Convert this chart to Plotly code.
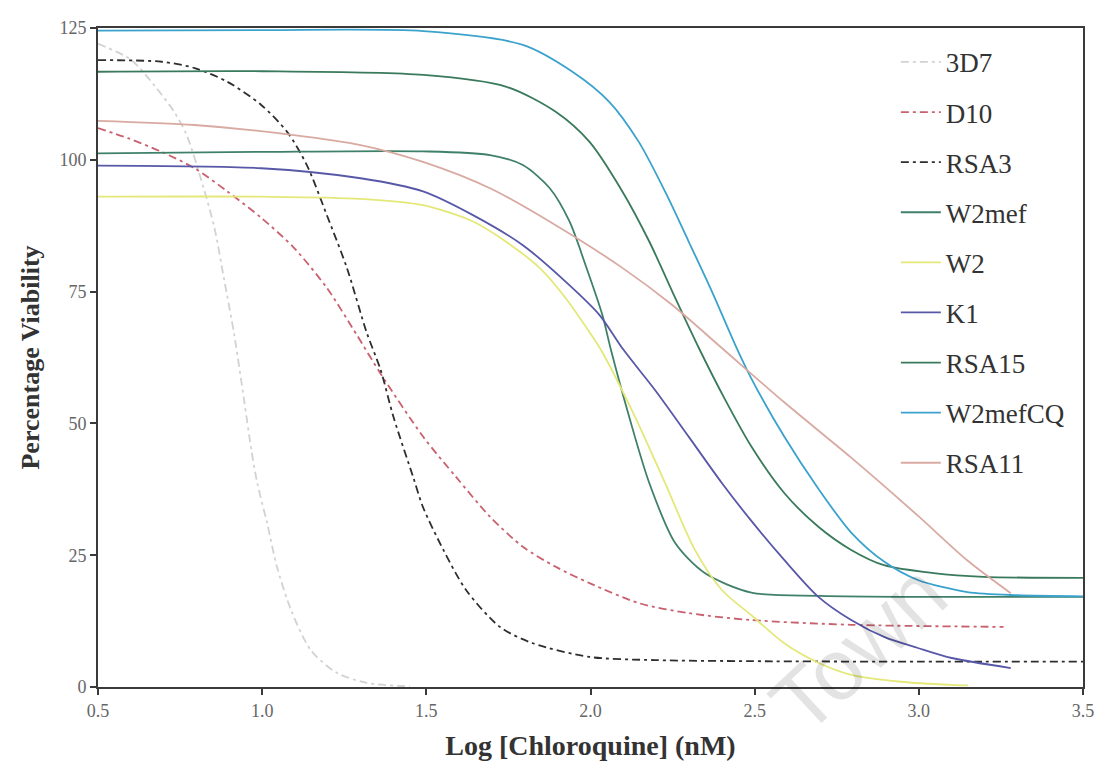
import plotly.graph_objects as go

# ---------------- data ----------------
x_3d7 = [0.5, 0.6, 0.673, 0.733, 0.77, 0.82, 0.855, 0.885, 0.915, 0.945, 0.967, 0.985,
         1.015, 1.045, 1.088, 1.148, 1.227, 1.318, 1.45]
y_3d7 = [122, 119, 114, 109, 104.7, 95, 87, 77, 66.8, 54.4, 45, 38.7,
         31.1, 22.8, 14.6, 7, 2.7, 0.8, 0.1]

x_d10 = [0.5, 0.591, 0.694, 0.794, 0.894, 0.997, 1.097, 1.197, 1.288, 1.36, 1.49,
         1.591, 1.694, 1.794, 1.894, 1.997, 2.148, 2.3, 2.49, 2.794, 3.258]
y_d10 = [106, 104.1, 101.5, 98.4, 94, 89, 83.3, 75.7, 66.8, 59.5, 47.5,
         39.8, 32.3, 26.6, 22.8, 19.7, 15.9, 14, 12.7, 11.8, 11.4]

x_rsa3 = [0.5, 0.694, 0.794, 0.894, 0.997, 1.076, 1.136, 1.197, 1.258, 1.318, 1.361, 1.4,
          1.46, 1.49, 1.552, 1.621, 1.724, 1.824, 1.997, 2.197, 2.49, 3.0, 3.5]
y_rsa3 = [118.9, 118.6, 117.4, 114.8, 110.4, 105.3, 99, 89.5, 79.5, 67.3, 60.1, 51.2,
          39.8, 34.1, 26, 18.4, 11.4, 8.3, 5.7, 5.1, 4.9, 4.8, 4.8]

x_w2mef = [0.5, 1.0, 1.49, 1.694, 1.794, 1.876, 1.936, 1.985, 2.036, 2.062, 2.118, 2.179,
           2.258, 2.348, 2.49, 2.7, 3.0, 3.5]
y_w2mef = [101.2, 101.5, 101.6, 100.9, 99, 94.6, 88.3, 80, 70.6, 64, 51.2, 38.7,
           27.3, 21.6, 17.9, 17.3, 17.1, 17.1]

x_w2 = [0.5, 1.0, 1.3, 1.49, 1.642, 1.742, 1.845, 1.924, 1.997, 2.036, 2.136, 2.227,
        2.318, 2.4, 2.49, 2.59, 2.694, 2.794, 2.945, 3.1, 3.15]
y_w2 = [93, 93, 92.6, 91.4, 88.3, 84.5, 79.5, 73.8, 67.3, 63.5, 51.2, 38.7,
        26, 18.4, 13.6, 8.3, 4.6, 2.3, 1, 0.4, 0.3]

x_k1 = [0.5, 0.997, 1.3, 1.49, 1.642, 1.794, 1.924, 2.027, 2.1, 2.197, 2.3, 2.4,
        2.49, 2.59, 2.694, 2.794, 2.894, 2.997, 3.1, 3.28]
y_k1 = [98.9, 98.4, 96.5, 94, 89.5, 83.8, 76.9, 70.6, 64, 56.3, 47.4, 38.7,
        31.5, 24.1, 17.1, 12.7, 9.5, 7.4, 5.5, 3.6]

x_rsa15 = [0.5, 1.0, 1.491, 1.742, 1.894, 1.997, 2.097, 2.179, 2.258, 2.33, 2.41, 2.49,
           2.59, 2.694, 2.794, 2.894, 3.045, 3.197, 3.5]
y_rsa15 = [116.7, 116.8, 116.1, 113.9, 109.1, 103.4, 94, 84.5, 73.8, 64.3, 54.5, 45.6,
           36.8, 30.4, 26, 23.1, 21.6, 20.9, 20.7]

x_w2mefcq = [0.5, 1.0, 1.491, 1.794, 1.945, 2.057, 2.147, 2.227, 2.299, 2.37, 2.44, 2.49,
             2.59, 2.694, 2.794, 2.894, 2.997, 3.148, 3.3, 3.5]
y_w2mefcq = [124.5, 124.6, 124.4, 121.8, 116.7, 111, 103.4, 94, 84.5, 75, 65, 58.5,
             47.5, 37.6, 29.3, 23.8, 20.3, 18, 17.4, 17.2]

x_rsa11 = [0.5, 0.794, 1.097, 1.3, 1.49, 1.694, 1.894, 2.097, 2.248, 2.4, 2.59,
           2.794, 2.997, 3.148, 3.28]
y_rsa11 = [107.4, 106.6, 104.7, 102.8, 99.6, 94.6, 87.6, 79.5, 72.5, 64.3, 54,
           43.5, 32.5, 24, 17.8]

x_ticks = [0.5, 1.0, 1.5, 2.0, 2.5, 3.0, 3.5]
x_tick_text = ["0.5", "1.0", "1.5", "2.0", "2.5", "3.0", "3.5"]
y_ticks = [0, 25, 50, 75, 100, 125]

series = [
    ("3D7", x_3d7, y_3d7, "#d2d2d2", "8px,4px,3px,4px"),
    ("D10", x_d10, y_d10, "#c8606e", "8px,4px,3px,4px"),
    ("RSA3", x_rsa3, y_rsa3, "#2e2e2e", "8px,4px,3px,4px"),
    ("W2mef", x_w2mef, y_w2mef, "#3f8068", "solid"),
    ("W2", x_w2, y_w2, "#e4e878", "solid"),
    ("K1", x_k1, y_k1, "#5858a8", "solid"),
    ("RSA15", x_rsa15, y_rsa15, "#3a7a5c", "solid"),
    ("W2mefCQ", x_w2mefcq, y_w2mefcq, "#3aa2cc", "solid"),
    ("RSA11", x_rsa11, y_rsa11, "#d8aaa2", "solid"),
]

fig = go.Figure()
for i, (name, xs, ys, color, dash) in enumerate(series):
    fig.add_trace(go.Scatter(
        x=xs, y=ys, name=name, mode="lines",
        line=dict(color=color, width=1.8, dash=dash, shape="spline", smoothing=0.8),
        legendgroup="g%d" % i,
    ))

serif = "Liberation Serif, Times New Roman, serif"

fig.update_layout(
    width=1106, height=768,
    margin=dict(l=98, r=18, t=28, b=81),
    paper_bgcolor="white", plot_bgcolor="white",
    font=dict(family=serif, size=18, color="#555"),
    showlegend=True,
    legend=dict(
        x=0.81, y=0.985, xanchor="left", yanchor="top",
        font=dict(family=serif, size=27, color="#333"),
        bgcolor="rgba(0,0,0,0)", tracegroupgap=12,
        itemwidth=40,
    ),
    xaxis=dict(
        range=[0.5, 3.5], tickvals=x_ticks, ticktext=x_tick_text,
        ticks="outside", ticklen=6, tickwidth=2, tickcolor="#3a3a3a",
        showline=True, linecolor="#3a3a3a", linewidth=2, mirror=True,
        showgrid=False, zeroline=False,
        tickfont=dict(family=serif, size=18, color="#666"),
        title=dict(text="<b>Log [Chloroquine] (nM)</b>",
                   font=dict(family=serif, size=28, color="#333"), standoff=16),
    ),
    yaxis=dict(
        range=[0, 125], tickvals=y_ticks,
        ticks="outside", ticklen=6, tickwidth=2, tickcolor="#3a3a3a",
        showline=True, linecolor="#3a3a3a", linewidth=2, mirror=True,
        showgrid=False, zeroline=False,
        tickfont=dict(family=serif, size=18, color="#666"),
        title=dict(text="<b>Percentage Viability</b>",
                   font=dict(family=serif, size=26, color="#333"), standoff=12),
    ),
)

# faint diagonal watermark seen in the reference
fig.add_annotation(
    text="Town", xref="paper", yref="paper",
    x=(862 - 98) / 990, y=(687 - 648) / 659, xanchor="center", yanchor="middle",
    textangle=-43, showarrow=False,
    font=dict(family="Liberation Sans, Arial, sans-serif", size=86, color="rgba(0,0,0,0.11)"),
)

fig.write_html("out.html")
